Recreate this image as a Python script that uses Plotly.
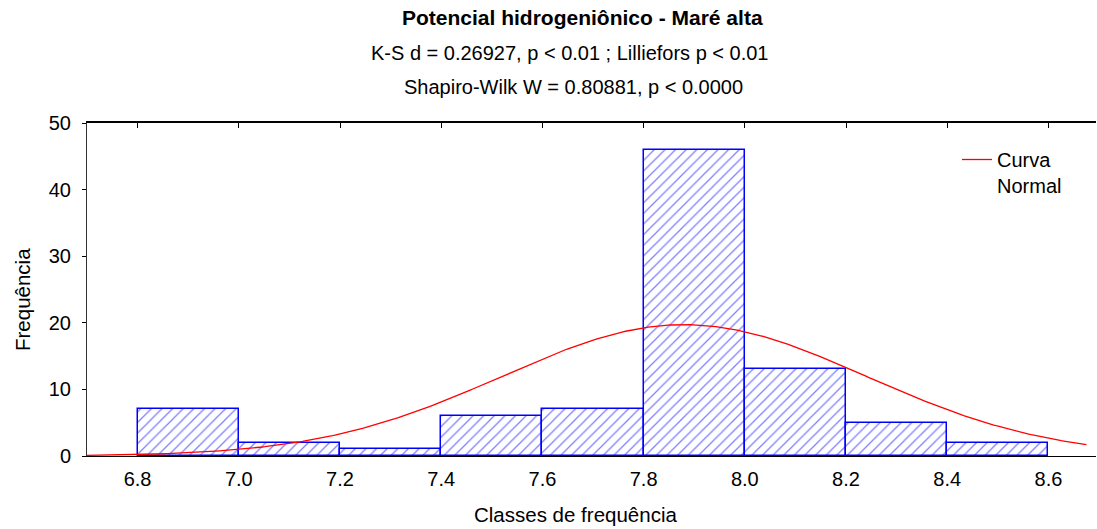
import numpy as np
import plotly.graph_objects as go

# Data
bin_edges = [6.8, 7.0, 7.2, 7.4, 7.6, 7.8, 8.0, 8.2, 8.4, 8.6]
counts = [7, 2, 1, 6, 7, 46, 13, 5, 2]
tick_labels = ["6.8", "7.0", "7.2", "7.4", "7.6", "7.8", "8.0", "8.2", "8.4", "8.6"]
y_ticks = [0, 10, 20, 30, 40, 50]
fit_mean = 7.88
fit_sd = 0.36
x_range = [6.70, 8.694]
curve_range = [6.70, 8.675]

bin_width = bin_edges[1] - bin_edges[0]
mids = [(a + b) / 2 for a, b in zip(bin_edges[:-1], bin_edges[1:])]
n_total = sum(counts)

xc = np.linspace(curve_range[0], curve_range[1], 400)
yc = n_total * bin_width / (fit_sd * np.sqrt(2 * np.pi)) * np.exp(-0.5 * ((xc - fit_mean) / fit_sd) ** 2)

FONT = "Liberation Sans, Arial, sans-serif"

fig = go.Figure()
fig.add_trace(go.Bar(
    x=mids, y=counts, width=bin_width,
    marker=dict(color="white", line=dict(color="#0000FF", width=1.5),
                pattern=dict(shape="/", fgcolor="#0000FF", bgcolor="white", size=7.5, solidity=0.17)),
    showlegend=False, hoverinfo="x+y",
))
fig.add_trace(go.Scatter(
    x=xc, y=yc, mode="lines", line=dict(color="#FF0000", width=1.3),
    name="Curva<br>Normal", showlegend=True,
))
# invisible trace to activate the top axis
fig.add_trace(go.Scatter(
    x=mids, y=counts, xaxis="x2", mode="markers", marker=dict(opacity=0),
    showlegend=False, hoverinfo="skip",
))

W, H = 1097, 529
ml, mr, mt, mb = 87, 1, 123, 73
pw, ph = W - ml - mr, H - mt - mb

def px(x):
    return (x - ml) / pw

def py(y):
    return (H - mb - y) / ph

annotations = [
    dict(text="<b>Potencial hidrogeniônico - Maré alta</b>", x=px(582), y=py(18), font=dict(size=21)),
    dict(text="K-S d = 0.26927, p < 0.01 ; Lilliefors p < 0.01", x=px(570), y=py(53), font=dict(size=20)),
    dict(text="Shapiro-Wilk W = 0.80881, p < 0.0000", x=px(573), y=py(87), font=dict(size=20)),
    dict(text="Classes de frequência", x=px(575), y=py(514), font=dict(size=20.5)),
    dict(text="Frequência", x=px(22), y=py(300), textangle=-90, font=dict(size=20.5)),
]
for a in annotations:
    a.update(xref="paper", yref="paper", showarrow=False, xanchor="center", yanchor="middle")
    a["font"].update(family=FONT, color="black")

fig.update_layout(
    width=W, height=H,
    margin=dict(l=ml, r=mr, t=mt, b=mb),
    paper_bgcolor="white", plot_bgcolor="white",
    font=dict(family=FONT, size=20, color="black"),
    bargap=0,
    annotations=annotations,
    xaxis=dict(range=x_range, tickvals=bin_edges, ticktext=tick_labels, ticks="",
               showline=True, linecolor="black", linewidth=1, showgrid=False, zeroline=False,
               tickfont=dict(size=20), ticklabelstandoff=5),
    xaxis2=dict(range=x_range, overlaying="x", side="top", tickvals=bin_edges, ticks="inside",
                ticklen=5, tickcolor="black", showticklabels=False, showline=True,
                linecolor="black", linewidth=1.5, showgrid=False, zeroline=False),
    yaxis=dict(range=[0, 50], tickvals=y_ticks, ticks="outside", ticklen=4, tickcolor="black",
               showline=True, linecolor="#333333", linewidth=1, showgrid=False, zeroline=False,
               tickfont=dict(size=20), ticklabelstandoff=7),
    legend=dict(x=px(957), y=py(140), xanchor="left", yanchor="top", bgcolor="rgba(0,0,0,0)",
                font=dict(size=20), valign="top", itemwidth=30),
)

fig.write_html("out.html")
